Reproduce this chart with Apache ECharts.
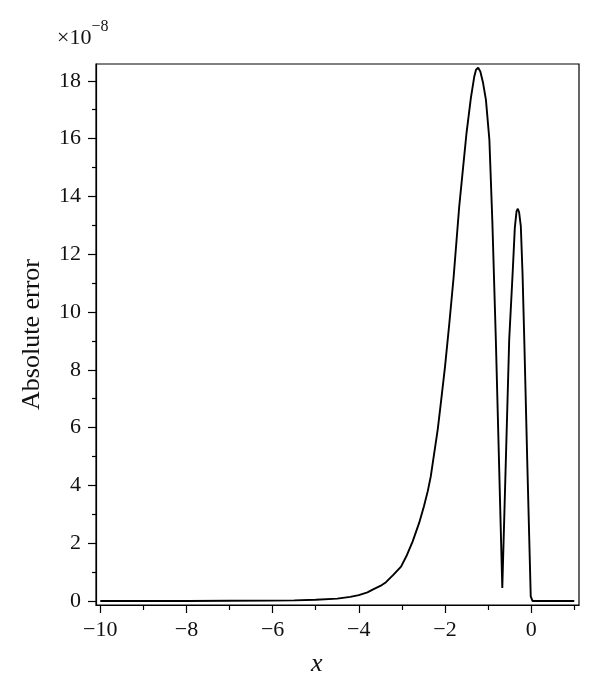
<!DOCTYPE html>
<html>
<head>
<meta charset="utf-8">
<script src="https://cdn.jsdelivr.net/npm/echarts@6/dist/echarts.min.js"></script>
<style>html,body{margin:0;padding:0;background:#fff}#c{width:600px;height:700px}</style>
</head>
<body>
<div id="c"></div>
<script>
// x values of the sampled curve
const xValues = [-10, -9, -8, -7, -6, -5.5, -5, -4.5, -4.2, -4, -3.8, -3.68, -3.5, -3.37, -3.2, -3.02, -2.88, -2.75, -2.6, -2.49, -2.4, -2.33, -2.17, -2.1, -2.0, -1.9, -1.8, -1.67, -1.6, -1.5, -1.4, -1.32, -1.28, -1.23, -1.18, -1.12, -1.05, -0.97, -0.9, -0.82, -0.67, -0.51, -0.43, -0.38, -0.34, -0.31, -0.28, -0.24, -0.2, -0.16, -0.09, -0.01, 0.03, 0.5, 1.0];
// absolute error values (units of 1e-8)
const errValues = [0, 0, 0, 0.005, 0.01, 0.02, 0.04, 0.08, 0.14, 0.2, 0.3, 0.39, 0.52, 0.65, 0.9, 1.19, 1.6, 2.06, 2.7, 3.27, 3.8, 4.31, 5.92, 6.8, 8.1, 9.6, 11.2, 13.65, 14.7, 16.2, 17.4, 18.15, 18.38, 18.45, 18.32, 17.95, 17.34, 15.96, 13.08, 9.04, 0.45, 9.04, 11.35, 12.9, 13.48, 13.57, 13.45, 12.96, 11.3, 9.04, 4.77, 0.16, 0.0, 0.0, 0.0];
// tick values
const xMajorTicks = [-10, -8, -6, -4, -2, 0];
const xMinorTicks = [-9, -7, -5, -3, -1, 1];
const yMajorTicks = [0, 2, 4, 6, 8, 10, 12, 14, 16, 18];
const yMinorTicks = [1, 3, 5, 7, 9, 11, 13, 15, 17];

const X_MIN = -10.1, X_MAX = 1.11, Y_MIN = -0.14, Y_MAX = 18.58;
const FONT = '"Liberation Serif", serif';
const fmt = v => String(v).replace('-', '\u2212');

const chart = echarts.init(document.getElementById('c'));
const tickStyle = {color: '#000', width: 1.2};
chart.setOption({
  animation: false,
  grid: {left: 96, right: 21, top: 64, bottom: 95, show: true, borderColor: '#000', borderWidth: 1.2},
  xAxis: [
    {
      type: 'value', min: X_MIN, max: X_MAX, position: 'bottom', splitLine: {show: false},
      axisLine: {show: true, onZero: false, lineStyle: {color: '#000', width: 1.2}},
      axisTick: {show: true, inside: false, length: 8, customValues: xMajorTicks, lineStyle: tickStyle},
      axisLabel: {show: true, customValues: xMajorTicks, formatter: fmt, margin: 14, color: '#111', fontFamily: FONT, fontSize: 22}
    },
    {
      type: 'value', min: X_MIN, max: X_MAX, position: 'bottom', splitLine: {show: false},
      axisLine: {show: false, onZero: false},
      axisTick: {show: true, inside: false, length: 5, customValues: xMinorTicks, lineStyle: tickStyle},
      axisLabel: {show: false}
    }
  ],
  yAxis: [
    {
      type: 'value', min: Y_MIN, max: Y_MAX, position: 'left', splitLine: {show: false},
      axisLine: {show: true, onZero: false, lineStyle: {color: '#000', width: 1.2}},
      axisTick: {show: true, inside: false, length: 8, customValues: yMajorTicks, lineStyle: tickStyle},
      axisLabel: {show: true, customValues: yMajorTicks, formatter: fmt, margin: 15, color: '#111', fontFamily: FONT, fontSize: 22},
      name: 'Absolute error', nameLocation: 'middle', nameGap: 51, nameRotate: 90,
      nameTextStyle: {color: '#111', fontFamily: FONT, fontSize: 26}
    },
    {
      type: 'value', min: Y_MIN, max: Y_MAX, position: 'left', splitLine: {show: false},
      axisLine: {show: false, onZero: false},
      axisTick: {show: true, inside: false, length: 4, customValues: yMinorTicks, lineStyle: tickStyle},
      axisLabel: {show: false}
    }
  ],
  graphic: [
    {type: 'text', left: 311, top: 651, style: {text: 'x', font: 'italic 26px "Liberation Serif"', fill: '#111'}},
    {type: 'text', left: 57, top: 19, style: {
      text: '{a|\u00d710}{b|\u22128}',
      rich: {
        a: {fontFamily: FONT, fontSize: 22, fill: '#111', verticalAlign: 'bottom', padding: [8, 0, 0, 0]},
        b: {fontFamily: FONT, fontSize: 16, fill: '#111', verticalAlign: 'top'}
      }
    }}
  ],
  series: [{
    type: 'line', xAxisIndex: 0, yAxisIndex: 0, showSymbol: false, smooth: false,
    lineStyle: {color: '#000', width: 1.9},
    data: xValues.map((x, i) => [x, errValues[i]])
  }]
});
</script>
</body>
</html>
